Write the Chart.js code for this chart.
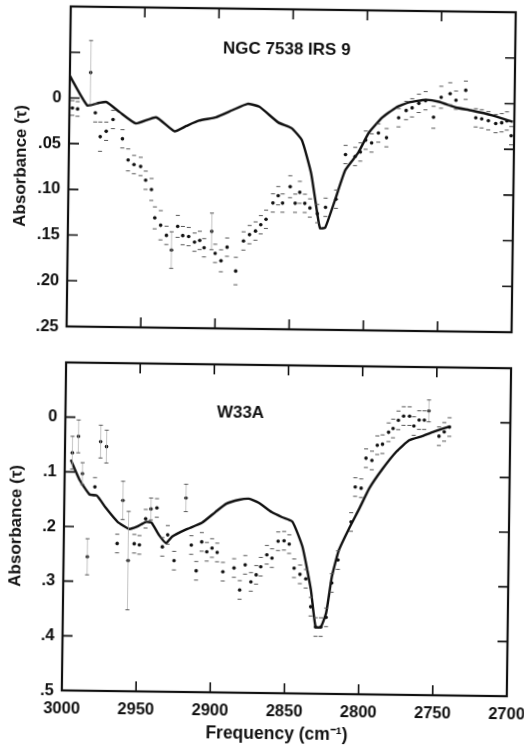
<!DOCTYPE html>
<html>
<head>
<meta charset="utf-8">
<script src="https://cdn.jsdelivr.net/npm/chart.js@4.4.1/dist/chart.umd.min.js"></script>
<style>
  html, body { margin: 0; padding: 0; background: #fff; overflow: hidden; }
  body { width: 524px; height: 746px; }
  #page { position: relative; width: 540px; height: 746px; transform: rotate(0.75deg); transform-origin: 262px 373px; }
  .box { position: absolute; left: 0; width: 540px; }
  #topBox { top: 0; height: 345px; }
  #botBox { top: 345px; height: 401px; }
</style>
</head>
<body>
<div id="page">
  <div class="box" id="topBox"><canvas id="ngc" width="540" height="345"></canvas></div>
  <div class="box" id="botBox"><canvas id="w33" width="540" height="401"></canvas></div>
</div>
<script>
  // axis ticks
  var FREQ_TICKS = [3000, 2950, 2900, 2850, 2800, 2750, 2700];
  var FREQ_LABELS = ['3000', '2950', '2900', '2850', '2800', '2750', '2700'];
  var NGC_TICKS = [-0.1, -0.05, 0, 0.05, 0.10, 0.15, 0.20, 0.25];
  var NGC_TICK_LABELS = ['', '', '0', '.05', '.10', '.15', '.20', '.25'];
  var W33_TICKS = [-0.1, 0, 0.1, 0.2, 0.3, 0.4, 0.5];
  var W33_TICK_LABELS = ['', '0', '.1', '.2', '.3', '.4', '.5'];

  // NGC 7538 IRS 9 : laboratory curve
  var ngcLineFreq = [3000, 2988, 2980, 2975, 2966, 2955, 2941.5, 2929, 2921, 2912.5, 2901, 2890, 2880, 2872, 2859, 2850,
    2843, 2836.5, 2832, 2830, 2826.5, 2820, 2813.5, 2805, 2798, 2789, 2780, 2771, 2760, 2751, 2739.5, 2729, 2715, 2701];
  var ngcLineTau = [-0.024, 0.008, 0.005, 0.004, 0.015, 0.027, 0.020, 0.035, 0.029, 0.023, 0.019, 0.011, 0.004, 0.007, 0.024, 0.030,
    0.043, 0.079, 0.123, 0.139, 0.138, 0.107, 0.075, 0.056, 0.034, 0.017, 0.006, 0.000, -0.003, -0.001, 0.005, 0.008, 0.013, 0.020];

  // NGC 7538 IRS 9 : observed optical depth
  var ngcObsFreq = [2998, 2994.5, 2986, 2982.5, 2979, 2975, 2970.5, 2964, 2960, 2956, 2951.5, 2948, 2944, 2941.5, 2937.5,
    2933.5, 2930, 2926, 2922.5, 2918.5, 2914.5, 2911, 2908, 2903, 2900.5, 2896.5, 2892.5, 2886.5, 2881.5, 2877.5,
    2873.5, 2870, 2866.5, 2862, 2858.5, 2855.5, 2850.5, 2847, 2844, 2840.5, 2837, 2832, 2826.5, 2819.5, 2813.5,
    2807, 2803.5, 2800, 2796, 2791.5, 2786, 2778, 2773, 2769, 2764.5, 2760, 2754.5, 2749.5, 2743.5, 2739.5,
    2733, 2726, 2722, 2717.5, 2712.5, 2708.5, 2705, 2702];
  var ngcObsTau = [0.011, 0.012, -0.028, 0.016, 0.042, 0.036, 0.023, 0.044, 0.067, 0.072, 0.074, 0.089, 0.099, 0.130, 0.138,
    0.149, 0.165, 0.139, 0.149, 0.150, 0.156, 0.154, 0.162, 0.144, 0.168, 0.176, 0.161, 0.187, 0.154, 0.147,
    0.143, 0.136, 0.130, 0.112, 0.104, 0.112, 0.094, 0.112, 0.100, 0.112, 0.117, 0.123, 0.116, 0.107, 0.058,
    0.060, 0.055, 0.042, 0.045, 0.034, 0.039, 0.017, 0.009, 0.006, 0.001, -0.002, 0.016, -0.006, -0.010, -0.003,
    -0.014, 0.016, 0.017, 0.019, 0.022, 0.021, 0.019, 0.035];
  var ngcObsErr = [0.008, 0.008, 0.035, 0.01, 0.016, 0.01, 0.01, 0.01, 0.012, 0.01, 0.01, 0.01, 0.012, 0.012, 0.016,
    0.01, 0.02, 0.012, 0.01, 0.01, 0.01, 0.01, 0.01, 0.02, 0.01, 0.012, 0.01, 0.015, 0.01, 0.01,
    0.01, 0.01, 0.01, 0.01, 0.01, 0.01, 0.012, 0.01, 0.012, 0.01, 0.01, 0.01, 0.01, 0.01, 0.01,
    0.01, 0.01, 0.01, 0.01, 0.01, 0.01, 0.01, 0.01, 0.01, 0.01, 0.01, 0.012, 0.012, 0.012, 0.01,
    0.01, 0.01, 0.01, 0.01, 0.01, 0.01, 0.01, 0.01];

  // W33A : laboratory curve
  var w33LineFreq = [2996, 2990, 2983, 2978, 2972, 2964, 2956, 2951, 2945, 2941, 2936, 2931, 2927, 2918, 2907, 2898, 2891,
    2882, 2875.5, 2869, 2860, 2853, 2846, 2839, 2833, 2829.5, 2826, 2822.5, 2819, 2814.5, 2808, 2801, 2794.5,
    2786, 2776.5, 2768, 2759, 2750.5, 2741];
  var w33LineTau = [0.078, 0.114, 0.141, 0.143, 0.165, 0.190, 0.203, 0.199, 0.190, 0.191, 0.213, 0.228, 0.216, 0.203, 0.190,
    0.170, 0.155, 0.147, 0.145, 0.152, 0.169, 0.178, 0.186, 0.232, 0.310, 0.378, 0.378, 0.352, 0.286, 0.237, 0.198,
    0.160, 0.123, 0.088, 0.055, 0.034, 0.026, 0.017, 0.008];

  // W33A : observed optical depth
  var w33ObsFreq = [2995, 2991, 2988, 2984, 2979.5, 2976, 2972, 2964, 2960.5, 2956.5, 2952.5, 2949, 2945, 2941.5, 2937.5,
    2933.5, 2930, 2925.5, 2918, 2914, 2910.5, 2907, 2903.5, 2900, 2896.5, 2892.5, 2885, 2881, 2877.5, 2873.5,
    2870, 2867, 2863, 2859.5, 2855.5, 2851.5, 2848, 2844.5, 2840.5, 2836.5, 2833, 2829.5, 2826, 2822.5, 2819,
    2815, 2806.5, 2804, 2800, 2797, 2793, 2789.5, 2786, 2782, 2779, 2775.5, 2772, 2768, 2765, 2761.5,
    2758, 2755, 2748, 2744.5, 2741];
  var w33ObsTau = [0.065, 0.035, 0.103, 0.255, 0.127, 0.044, 0.053, 0.230, 0.151, 0.261, 0.230, 0.232, 0.184, 0.166, 0.164,
    0.235, 0.213, 0.260, 0.145, 0.231, 0.278, 0.225, 0.243, 0.236, 0.244, 0.279, 0.272, 0.312, 0.266, 0.297,
    0.284, 0.269, 0.247, 0.253, 0.222, 0.221, 0.227, 0.271, 0.282, 0.290, 0.341, 0.378, 0.378, 0.360, 0.297,
    0.255, 0.185, 0.121, 0.123, 0.068, 0.072, 0.044, 0.042, 0.020, 0.013, -0.002, -0.010, -0.010, 0.008, -0.003,
    -0.003, -0.020, 0.026, 0.018, 0.009];
  var w33ObsErr = [0.03, 0.03, 0.02, 0.033, 0.017, 0.03, 0.03, 0.017, 0.035, 0.09, 0.017, 0.017, 0.017, 0.02, 0.017,
    0.017, 0.017, 0.017, 0.025, 0.017, 0.017, 0.017, 0.017, 0.017, 0.017, 0.017, 0.017, 0.017, 0.017, 0.017,
    0.017, 0.017, 0.017, 0.017, 0.017, 0.017, 0.017, 0.017, 0.017, 0.017, 0.017, 0.017, 0.017, 0.017, 0.017,
    0.017, 0.017, 0.017, 0.017, 0.017, 0.017, 0.017, 0.017, 0.017, 0.017, 0.017, 0.017, 0.017, 0.017, 0.017,
    0.017, 0.02, 0.017, 0.017, 0.017];

  var FAMILY = "'Liberation Sans', Arial, sans-serif";
  var TICK_FONT = { family: FAMILY, size: 16.5, weight: 'bold' };
  var TITLE_FONT = { family: FAMILY, size: 17, weight: 'bold' };
  var XTITLE_FONT = { family: FAMILY, size: 17.5, weight: 'bold' };
  var INK = '#111';
  var TICK_LEN = 10;

  Chart.defaults.color = INK;
  Chart.defaults.font.family = FAMILY;

  function pairs(xs, ys) {
    return xs.map(function (x, i) { return { x: x, y: ys[i] }; });
  }

  // error bars: short caps, faint stem on the long ones
  function errorBarPlugin(errs) {
    return {
      id: 'errorBars',
      afterDatasetsDraw: function (chart) {
        var meta = chart.getDatasetMeta(1);
        var data = chart.data.datasets[1].data;
        var ys = chart.scales.y;
        var ctx = chart.ctx;
        ctx.save();
        meta.data.forEach(function (pt, i) {
          var v = data[i].y, e = errs[i];
          var top = ys.getPixelForValue(v - e);
          var bot = ys.getPixelForValue(v + e);
          if (e >= 0.02) {
            ctx.strokeStyle = '#aaa';
            ctx.lineWidth = 0.7;
            ctx.beginPath();
            ctx.moveTo(pt.x, top); ctx.lineTo(pt.x, bot);
            ctx.stroke();
          }
          ctx.strokeStyle = '#555';
          ctx.lineWidth = 1;
          ctx.beginPath();
          ctx.moveTo(pt.x - 2, top); ctx.lineTo(pt.x + 2, top);
          ctx.moveTo(pt.x - 2, bot); ctx.lineTo(pt.x + 2, bot);
          ctx.stroke();
        });
        ctx.restore();
      }
    };
  }

  // box frame with inward tick marks and the source name
  function framePlugin(yMarks, label) {
    return {
      id: 'frame',
      afterDraw: function (chart) {
        var a = chart.chartArea, ctx = chart.ctx;
        var xs = chart.scales.x, ys = chart.scales.y;
        ctx.save();
        ctx.strokeStyle = INK;
        ctx.lineWidth = 1.6;
        ctx.beginPath();
        FREQ_TICKS.slice(1, -1).forEach(function (f) {
          var px = xs.getPixelForValue(f);
          ctx.moveTo(px, a.top); ctx.lineTo(px, a.top + TICK_LEN);
          ctx.moveTo(px, a.bottom); ctx.lineTo(px, a.bottom - TICK_LEN);
        });
        yMarks.slice(1, -1).forEach(function (v) {
          var py = ys.getPixelForValue(v);
          ctx.moveTo(a.left, py); ctx.lineTo(a.left + TICK_LEN, py);
          ctx.moveTo(a.right, py); ctx.lineTo(a.right - TICK_LEN, py);
        });
        ctx.stroke();
        ctx.lineWidth = 2.2;
        ctx.strokeRect(a.left, a.top, a.right - a.left, a.bottom - a.top);
        ctx.fillStyle = INK;
        ctx.font = 'bold 17px ' + FAMILY;
        ctx.textAlign = 'center';
        ctx.textBaseline = 'middle';
        ctx.fillText(label.text, xs.getPixelForValue(label.freq), ys.getPixelForValue(label.tau));
        ctx.restore();
      }
    };
  }

  function makeChart(id, cfg) {
    var showX = cfg.showX;
    return new Chart(document.getElementById(id), {
      data: {
        datasets: [{
          type: 'line',
          data: pairs(cfg.lineFreq, cfg.lineTau),
          borderColor: INK,
          borderWidth: 2.4,
          pointRadius: 0,
          tension: 0.15,
          order: 0
        }, {
          type: 'scatter',
          data: pairs(cfg.obsFreq, cfg.obsTau),
          backgroundColor: INK,
          borderWidth: 0,
          pointRadius: 1.8,
          order: 1
        }]
      },
      options: {
        responsive: false,
        animation: false,
        devicePixelRatio: 1,
        layout: { padding: { left: 0, right: 29, top: cfg.padTop, bottom: 0 } },
        plugins: { legend: { display: false }, tooltip: { enabled: false } },
        scales: {
          x: {
            type: 'linear', reverse: true, min: 2700, max: 3000,
            grid: { display: false, drawTicks: false },
            border: { display: false },
            afterBuildTicks: function (s) {
              s.ticks = FREQ_TICKS.map(function (v) { return { value: v }; });
            },
            ticks: {
              display: showX, autoSkip: false, maxRotation: 0, padding: 9, font: TICK_FONT,
              callback: function (v, i) { return FREQ_LABELS[i]; }
            },
            title: {
              // trailing spaces nudge the centred title a little to the left, as in the scan
              display: showX, text: 'Frequency (cm\u207B\u00B9)   ', font: XTITLE_FONT,
              padding: { top: 0, bottom: 1 }
            },
            afterFit: function (s) {
              s.height = showX ? 53 : 16;
              s.paddingLeft = 0; s.paddingRight = 0;
            }
          },
          y: {
            type: 'linear', reverse: true, min: cfg.yTicks[0], max: cfg.yTicks[cfg.yTicks.length - 1],
            grid: { display: false, drawTicks: false },
            border: { display: false },
            afterBuildTicks: function (s) {
              s.ticks = cfg.yTicks.map(function (v) { return { value: v }; });
            },
            ticks: {
              autoSkip: false, padding: 8, font: TICK_FONT,
              callback: function (v, i) { return cfg.yLabels[i]; }
            },
            title: {
              display: true, text: 'Absorbance (\u03C4)', font: TITLE_FONT,
              padding: { top: 8, bottom: 0 }
            },
            afterFit: function (s) {
              s.width = 66;
              s.paddingTop = 0; s.paddingBottom = 0;
            }
          }
        }
      },
      plugins: [errorBarPlugin(cfg.obsErr), framePlugin(cfg.yTicks, cfg.label)]
    });
  }

  makeChart('ngc', {
    showX: false, padTop: 9,
    lineFreq: ngcLineFreq, lineTau: ngcLineTau,
    obsFreq: ngcObsFreq, obsTau: ngcObsTau, obsErr: ngcObsErr,
    yTicks: NGC_TICKS, yLabels: NGC_TICK_LABELS,
    label: { text: 'NGC 7538 IRS 9', freq: 2854, tau: -0.056 }
  });

  makeChart('w33', {
    showX: true, padTop: 20,
    lineFreq: w33LineFreq, lineTau: w33LineTau,
    obsFreq: w33ObsFreq, obsTau: w33ObsTau, obsErr: w33ObsErr,
    yTicks: W33_TICKS, yLabels: W33_TICK_LABELS,
    label: { text: 'W33A', freq: 2882, tau: -0.012 }
  });
</script>
</body>
</html>
